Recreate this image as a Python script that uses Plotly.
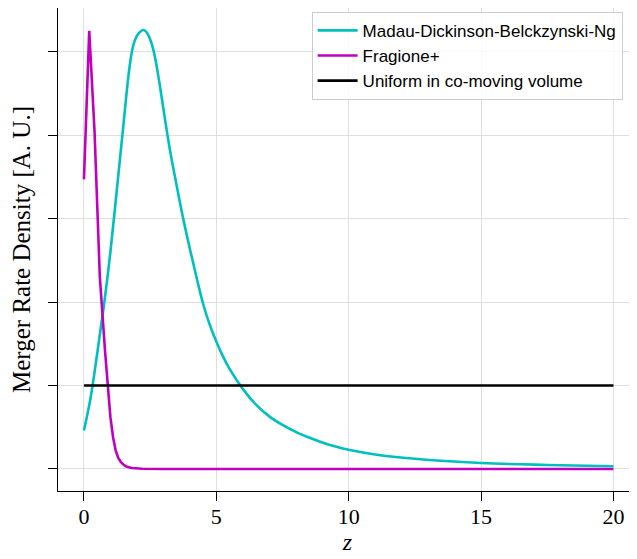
import plotly.graph_objects as go

# --- data (arbitrary units) ---
z_mdbn = [0, 0.25, 0.5, 0.75, 1.0, 1.25, 1.5, 1.625, 1.75, 1.875, 2.0, 2.125, 2.25,
          2.375, 2.5, 2.625, 2.75, 2.875, 3.0, 3.125, 3.25, 3.5, 3.75, 4.0, 4.25, 4.5,
          4.75, 5.0, 5.25, 5.5, 6.0, 6.5, 7.0, 7.5, 8.0, 8.5, 9.0, 9.5, 10, 11, 12.5,
          15, 17.5, 20]
v_mdbn = [0.46, 0.85, 1.38, 1.95, 2.6, 3.37, 4.15, 4.55, 4.88, 5.09, 5.19, 5.24, 5.26,
          5.23, 5.15, 5.02, 4.82, 4.58, 4.32, 4.06, 3.82, 3.40, 3.0, 2.64, 2.30, 1.98,
          1.73, 1.527, 1.35, 1.20, 0.96, 0.77, 0.63, 0.527, 0.444, 0.377, 0.318, 0.27,
          0.23, 0.174, 0.122, 0.072, 0.048, 0.032]

z_frag = [0, 0.2, 0.4, 0.6, 0.8, 1.0, 1.1, 1.2, 1.3, 1.4, 1.5, 1.6, 1.8, 2.0, 2.2,
          3, 5, 10, 15, 20]
v_frag = [3.47, 5.25, 4.05, 2.3, 1.4, 0.62, 0.38, 0.22, 0.13, 0.08, 0.05, 0.03,
          0.012, 0.005, 0.002, 0, 0, 0, 0, 0]

z_unif = [0, 20]
v_unif = [1.0, 1.0]

x_ticks = [0, 5, 10, 15, 20]
y_ticks = [0, 1, 2, 3, 4, 5]

names = ["Madau-Dickinson-Belckzynski-Ng", "Fragione+", "Uniform in co-moving volume"]
colors = ["#00bfbf", "#bf00bf", "#000000"]

fig = go.Figure()
fig.add_trace(go.Scatter(x=z_mdbn, y=v_mdbn, mode="lines", name=names[0],
                         line=dict(color=colors[0], width=2.6, shape="spline", smoothing=1.0)))
fig.add_trace(go.Scatter(x=z_frag, y=v_frag, mode="lines", name=names[1],
                         line=dict(color=colors[1], width=2.6)))
fig.add_trace(go.Scatter(x=z_unif, y=v_unif, mode="lines", name=names[2],
                         line=dict(color=colors[2], width=2.6)))

serif = "Liberation Serif, DejaVu Serif, serif"

# the page body has an 8 px default margin, so the figure is sized/offset to compensate
fig.update_layout(
    width=629, height=551,
    margin=dict(l=50, r=0, t=0, b=68),
    plot_bgcolor="white", paper_bgcolor="white",
    showlegend=True,
    legend=dict(x=0.438, y=0.992, xanchor="left", yanchor="top",
                bgcolor="rgba(255,255,255,0.85)", bordercolor="#cccccc", borderwidth=1,
                font=dict(family="Liberation Sans, Arial, sans-serif", size=17, color="black"),
                itemwidth=40),
    xaxis=dict(range=[-0.98, 20.89], tickvals=x_ticks, ticks="outside", ticklen=9,
               tickcolor="black", tickwidth=1.2, automargin=False,
               ticklabelstandoff=-4,
               showline=True, linecolor="black", linewidth=1.3, mirror=True,
               showgrid=True, gridcolor="#dedede", gridwidth=1, zeroline=False,
               tickfont=dict(family=serif, size=22, color="black"),
               title=dict(text="<i>z</i>", font=dict(family=serif, size=24, color="black"),
                          standoff=2)),
    yaxis=dict(range=[-0.264, 5.524], tickvals=y_ticks, showticklabels=False,
               ticks="outside", ticklen=9, tickcolor="black", tickwidth=1.2,
               automargin=False,
               showline=True, linecolor="black", linewidth=1.3,
               showgrid=True, gridcolor="#dedede", gridwidth=1, zeroline=False,
               title=dict(text="Merger Rate Density [A. U.]",
                          font=dict(family=serif, size=25, color="black"), standoff=14)),
)

fig.write_html("out.html")
